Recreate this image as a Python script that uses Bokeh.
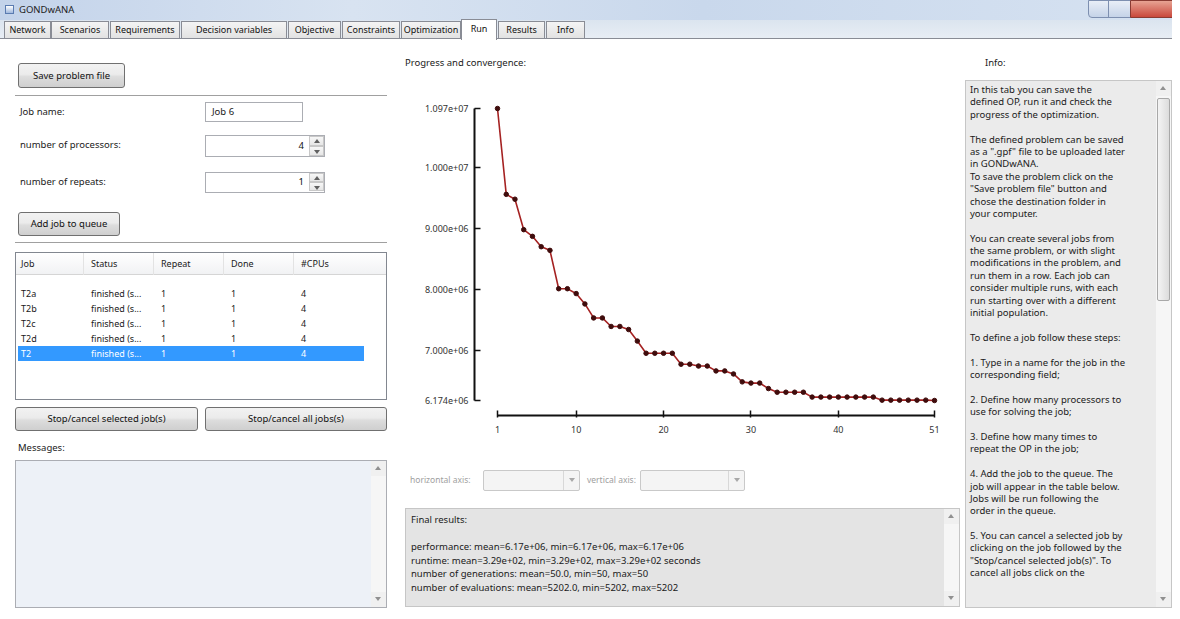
from bokeh.plotting import figure
from bokeh.models import Range1d, FixedTicker, Div
from bokeh.layouts import column, row
from bokeh.embed import file_html
from bokeh.resources import INLINE

# ---------------- data ----------------
generations = list(range(1, 52))
best_fitness = [10970000, 9560000, 9480000, 8980000, 8870000, 8700000, 8640000, 8010000, 8010000, 7930000,
                7760000, 7530000, 7530000, 7390000, 7390000, 7340000, 7150000, 6950000, 6950000, 6950000,
                6950000, 6770000, 6770000, 6740000, 6740000, 6660000, 6660000, 6610000, 6480000, 6460000,
                6460000, 6370000, 6310000, 6310000, 6310000, 6310000, 6230000, 6230000, 6230000, 6230000,
                6230000, 6230000, 6230000, 6230000, 6180000, 6180000, 6180000, 6180000, 6180000, 6180000,
                6174000]
x_ticks = [1, 10, 20, 30, 40, 51]
x_tick_labels = ["1", "10", "20", "30", "40", "51"]
y_ticks = [6174000, 7000000, 8000000, 9000000, 10000000, 10970000]
y_tick_labels = ["6.174e+06", "7.000e+06", "8.000e+06", "9.000e+06", "1.000e+07", "1.097e+07"]

tab_names = ["Network", "Scenarios", "Requirements", "Decision variables", "Objective",
             "Constraints", "Optimization", "Run", "Results", "Info"]
job_columns = ["Job", "Status", "Repeat", "Done", "#CPUs"]
job_rows = [["T2a", "finished (s...", "1", "1", "4"],
            ["T2b", "finished (s...", "1", "1", "4"],
            ["T2c", "finished (s...", "1", "1", "4"],
            ["T2d", "finished (s...", "1", "1", "4"],
            ["T2", "finished (s...", "1", "1", "4"]]
final_results = ["Final results:", "",
                 "performance: mean=6.17e+06, min=6.17e+06, max=6.17e+06",
                 "runtime: mean=3.29e+02, min=3.29e+02, max=3.29e+02 seconds",
                 "number of generations: mean=50.0, min=50, max=50",
                 "number of evaluations: mean=5202.0, min=5202, max=5202"]
info_lines = ["In this tab you can save the", "defined OP, run it and check the",
              "progress of the optimization.", "",
              "The defined problem can be saved", "as a \".gpf\" file to be uploaded later",
              "in GONDwANA.", "To save the problem click on the", "\"Save problem file\" button and",
              "chose the destination folder in", "your computer.", "",
              "You can create several jobs from", "the same problem, or with slight",
              "modifications in the problem, and", "run them in a row. Each job can",
              "consider multiple runs, with each", "run starting over with a different",
              "initial population.", "",
              "To define a job follow these steps:", "",
              "1. Type in a name for the job in the", "corresponding field;", "",
              "2. Define how many processors to", "use for solving the job;", "",
              "3. Define how many times to", "repeat the OP in the job;", "",
              "4. Add the job to the queue. The", "job will appear in the table below.",
              "Jobs will be run following the", "order in the queue.", "",
              "5. You can cancel a selected job by", "clicking on the job followed by the",
              "\"Stop/cancel selected job(s)\". To", "cancel all jobs click on the"]

FONT = "'Noto Sans','DejaVu Sans',sans-serif"


# ---------------- small HTML helpers for the surrounding window ----------------
def box(l, t, w, h, style="", inner=""):
    return (f'<div style="position:absolute;left:{l}px;top:{t}px;width:{w}px;height:{h}px;'
            f'box-sizing:border-box;{style}">{inner}</div>')


def txt(l, t, s, size=9.5, color="#1a1a1a", extra=""):
    return (f'<div style="position:absolute;left:{l}px;top:{t}px;white-space:nowrap;'
            f'font-size:{size}px;line-height:14px;color:{color};{extra}">{s}</div>')


BTN = ("border:1px solid #707070;border-radius:3px;"
       "background:linear-gradient(#f2f2f2,#ebebeb 45%,#dddddd 55%,#cfcfcf);"
       "text-align:center;font-size:9.5px;color:#111;white-space:nowrap;")


def button(l, t, w, h, label):
    return box(l, t, w, h, BTN + f"line-height:{h - 2}px;", label)


def tri(l, t, up=True, color="#606060"):
    side = "bottom" if up else "top"
    return (f'<div style="position:absolute;left:{l}px;top:{t}px;width:0;height:0;'
            f'border-left:3px solid transparent;border-right:3px solid transparent;'
            f'border-{side}:4px solid {color};"></div>')


def spin(l, t, w, h, val):
    inner = (f'<div style="position:absolute;right:20px;top:{(h - 16) // 2}px;font-size:9.5px;'
             f'line-height:14px;color:#111;">{val}</div>')
    arrows = (box(0, 0, 15, (h - 2) // 2, "border:1px solid #c8c8c8;background:linear-gradient(#f7f7f7,#e6e6e6);",
                  tri(4, 2, True)) +
              box(0, (h - 2) // 2, 15, (h - 2) // 2, "border:1px solid #c8c8c8;background:linear-gradient(#f7f7f7,#e6e6e6);",
                  tri(4, 3, False)))
    inner += box(w - 17, 0, 15, h - 2, "", arrows)
    return box(l, t, w, h, "border:1px solid #abadb3;background:#fff;", inner)


def vscroll(l, t, h, thumb=None):
    inner = box(0, 0, 15, 15, "background:#f0f0f0;", tri(4, 5, True, "#909090"))
    inner += box(0, h - 15, 15, 15, "background:#f0f0f0;", tri(4, 5, False, "#909090"))
    if thumb:
        inner += box(1, thumb[0], 13, thumb[1] - thumb[0],
                     "border:1px solid #a8a8a8;border-radius:2px;background:linear-gradient(90deg,#f4f4f4,#dcdcdc);")
    return box(l, t, 15, h, "background:#f6f6f6;", inner)


def combo(l, t, w, h):
    return box(l, t, w, h, "border:1px solid #c9c9c9;border-radius:2px;background:#f4f4f4;",
               box(w - 18, 0, 1, h - 2, "border-left:1px solid #d8d8d8;") + tri(w - 12, (h - 6) // 2, False, "#a8a8a8"))


def panel(w, h, inner, bg="#ffffff"):
    return (f'<div style="position:relative;width:{w}px;height:{h}px;overflow:hidden;'
            f'background:{bg};font-family:{FONT};">{inner}</div>')


# ---------------- header: title bar and tabs ----------------
HEAD_W, HEAD_H = 1172, 40
head = box(0, 0, HEAD_W, 20, "background:linear-gradient(90deg,#c3d3ea,#d8e3f1 30%,#c9d8ec 60%,#d6e2f1);")
head += box(5, 5, 9, 9, "border:1px solid #5a7bb0;background:linear-gradient(#ffffff,#9fb8de);")
head += txt(19, 3, "GONDwANA", size=9.5, color="#222")
head += box(1088, 0, 21, 18, "border:1px solid #7d8fb0;border-radius:0 0 0 4px;background:linear-gradient(#e8eef7,#c5d3e8);")
head += box(1108, 0, 23, 18, "border:1px solid #7d8fb0;background:linear-gradient(#e8eef7,#c5d3e8);")
head += box(1130, 0, 46, 18, "border:1px solid #8a3b33;border-radius:0 0 4px 0;background:linear-gradient(#e8a393,#c9483c);")
head += box(0, 20, HEAD_W, 20, "background:linear-gradient(#dbe4ef,#e9eef5);")
head += box(0, 38, HEAD_W, 2, "border-top:1px solid #898c95;background:#fff;")
tab_edges = [(4, 51), (51, 109), (110, 180), (181, 287), (288, 341), (342, 400), (401, 461),
             (461, 497), (498, 545), (546, 585)]
for name, (a, b) in zip(tab_names, tab_edges):
    if name == "Run":
        head += box(a, 19, b - a, 21, "border:1px solid #898c95;border-bottom:none;background:#fff;"
                    "text-align:center;font-size:9px;line-height:17px;color:#111;", name)
    else:
        head += box(a, 21, b - a, 17, "border:1px solid #898c95;border-bottom:none;"
                    "background:linear-gradient(#f4f4f4,#e2e2e2);text-align:center;font-size:9px;"
                    "line-height:15px;color:#111;white-space:nowrap;overflow:hidden;", name)
header = Div(text=panel(HEAD_W, HEAD_H, head, bg="#dfe7f1"), width=HEAD_W, height=HEAD_H, margin=0)

BODY_H = 571

# ---------------- left column ----------------
LW = 395
left = button(18, 23, 107, 25, "Save problem file")
left += box(15, 55, 372, 2, "border-top:1px solid #a0a0a0;border-bottom:1px solid #fff;")
left += txt(20, 65, "Job name:")
left += box(205, 62, 98, 20, "border:1px solid #abadb3;background:#fff;",
            txt(6, 2, "Job 6"))
left += txt(20, 98, "number of processors:")
left += spin(205, 95, 120, 22, "4")
left += txt(20, 135, "number of repeats:")
left += spin(205, 132, 120, 21, "1")
left += button(18, 172, 102, 24, "Add job to queue")
left += box(15, 202, 372, 2, "border-top:1px solid #a0a0a0;border-bottom:1px solid #fff;")
col_x = [5, 75, 145, 215, 285]
tbl = box(0, 0, 370, 22, "background:linear-gradient(#ffffff,#f1f2f4);border-bottom:1px solid #d5d5d5;")
for cx, cname in zip(col_x, job_columns):
    tbl += txt(cx, 4, cname, size=9)
    if cx > 5:
        tbl += box(cx - 8, 0, 1, 22, "border-left:1px solid #e3e3e3;")
for ri, r in enumerate(job_rows):
    top = 33 + 15 * ri
    color = "#1a1a1a"
    if ri == len(job_rows) - 1:
        tbl += box(2, top, 346, 15, "background:#3399ff;")
        color = "#ffffff"
    for cx, cell in zip(col_x, r):
        tbl += txt(cx, top + 1, cell, size=9, color=color)
left += box(15, 212, 372, 148, "border:1px solid #828790;background:#fff;overflow:hidden;", tbl)
left += button(15, 367, 183, 24, "Stop/cancel selected job(s)")
left += button(205, 367, 182, 24, "Stop/cancel all jobs(s)")
left += txt(18, 401, "Messages:")
left += box(15, 420, 372, 148, "border:1px solid #abadb3;background:#edf1f7;",
            vscroll(355, 0, 146))
left_div = Div(text=panel(LW, BODY_H, left), width=LW, height=BODY_H, margin=0)

# ---------------- middle column: title, chart, controls ----------------
MW = 565
mid_top = Div(text=panel(MW, 35, txt(10, 16, "Progress and convergence:")), width=MW, height=35, margin=0)

FRAME_W, FRAME_H = 466, 317
PAD_L, PAD_R, PAD_T, PAD_B = 23, 6, 10, 15
xmin, xmax = min(generations), max(generations)
ymin, ymax = min(best_fitness), max(best_fitness)
xs = (xmax - xmin) / (FRAME_W - PAD_L - PAD_R)
ys = (ymax - ymin) / (FRAME_H - PAD_T - PAD_B)

p = figure(width=MW, height=380,
           x_range=Range1d(xmin - PAD_L * xs, xmax + PAD_R * xs),
           y_range=Range1d(ymin - PAD_B * ys, ymax + PAD_T * ys),
           output_backend="svg", toolbar_location=None,
           min_border_left=79, min_border_right=20, min_border_top=23, min_border_bottom=40)
p.line(generations, best_fitness, line_color="#a52222", line_width=1.6)
p.scatter(generations, best_fitness, size=4.5, fill_color="#3f0c0c", line_color="#3f0c0c")
p.grid.visible = False
p.outline_line_color = None
p.background_fill_color = "#ffffff"
p.border_fill_color = "#ffffff"

p.xaxis.bounds = (xmin, xmax)
p.xaxis.ticker = FixedTicker(ticks=x_ticks)
p.xaxis.major_label_overrides = {t: s for t, s in zip(x_ticks, x_tick_labels)}
p.xaxis.major_tick_in = 5
p.xaxis.major_tick_out = 2
p.xaxis.major_label_standoff = 8

p.yaxis.bounds = (ymin, ymax)
p.yaxis.ticker = FixedTicker(ticks=y_ticks)
p.yaxis.major_label_overrides = {t: s for t, s in zip(y_ticks, y_tick_labels)}
p.yaxis.major_tick_in = 6
p.yaxis.major_tick_out = 0
p.yaxis.major_label_standoff = 6

for ax in (p.xaxis, p.yaxis):
    ax.axis_line_width = 2
    ax.axis_line_color = "#111111"
    ax.major_tick_line_width = 1.5
    ax.major_tick_line_color = "#111111"
    ax.minor_tick_line_color = None
    ax.major_label_text_font = "Noto Sans"
    ax.major_label_text_font_size = "9px"
    ax.major_label_text_color = "#333333"

mb = txt(15, 18, "horizontal axis:", size=8.5, color="#a0a0a0")
mb += combo(88, 15, 97, 21)
mb += txt(192, 18, "vertical axis:", size=8.5, color="#a0a0a0")
mb += combo(245, 15, 105, 21)
fr = "".join(f'<div style="height:13.5px;line-height:13.5px;white-space:nowrap;">{s if s else "&nbsp;"}</div>'
             for s in final_results)
mb += box(10, 53, 555, 99, "border:1px solid #c6c6c6;background:#e4e4e4;",
          f'<div style="position:absolute;left:5px;top:4px;font-size:9.5px;color:#1a1a1a;">{fr}</div>'
          + vscroll(538, 0, 97))
mid_bottom = Div(text=panel(MW, 156, mb), width=MW, height=156, margin=0)

middle = column(mid_top, p, mid_bottom)

# ---------------- right column: info ----------------
RW = 212
info = "".join(f'<div style="height:12.4px;line-height:12.4px;white-space:nowrap;">{s if s else "&nbsp;"}</div>'
               for s in info_lines)
rt = txt(25, 16, "Info:")
rt += box(5, 40, 207, 528, "border:1px solid #c6c6c6;background:#ebebeb;overflow:hidden;",
          f'<div style="position:absolute;left:4px;top:3px;font-size:9.5px;color:#1a1a1a;">{info}</div>'
          + vscroll(190, 0, 526, thumb=(17, 220)))
right_div = Div(text=panel(RW, BODY_H, rt), width=RW, height=BODY_H, margin=0)

layout = column(header, row(left_div, middle, right_div))

open("out.html", "w").write(file_html(layout, INLINE))
